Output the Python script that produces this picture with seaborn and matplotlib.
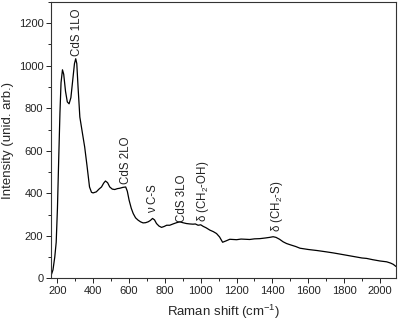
import matplotlib
matplotlib.use("Agg")
import matplotlib.pyplot as plt
from matplotlib.ticker import MultipleLocator
import seaborn as sns
import pandas as pd

raman_shift = [165, 175, 185, 193, 200, 207, 214, 220, 228, 235, 245, 255, 265,
               275, 285, 295, 302, 308, 315, 325, 340, 352, 365, 379, 390, 399,
               417, 432, 446, 458, 468, 480, 492, 506, 520, 534, 548, 565, 581,
               590, 600, 612, 623, 636, 650, 664, 678, 692, 706, 718, 731, 742,
               753, 767, 781, 795, 810, 827, 845, 865, 883, 900, 920, 940, 957,
               970, 985, 1000, 1013, 1030, 1051, 1070, 1088, 1105, 1122, 1140,
               1162, 1181, 1200, 1225, 1250, 1273, 1300, 1330, 1360, 1385, 1404,
               1420, 1440, 1460, 1479, 1500, 1530, 1554, 1600, 1650, 1700, 1739,
               1780, 1820, 1860, 1900, 1926, 1960, 2000, 2038, 2060, 2075, 2090]
intensity = [15, 40, 100, 170, 330, 560, 780, 920, 981, 960, 880, 830, 821,
             850, 930, 1010, 1033, 1010, 900, 759, 680, 618, 530, 430, 405, 402,
             407, 420, 430, 448, 458, 450, 430, 420, 418, 422, 424, 428, 430,
             410, 368, 330, 305, 285, 274, 266, 261, 262, 266, 272, 282, 275,
             258, 246, 240, 244, 250, 250, 256, 262, 266, 262, 258, 256, 255,
             256, 250, 252, 245, 238, 227, 220, 211, 195, 170, 176,
             184, 183, 182, 185, 184, 183, 186, 187, 190, 193, 196,
             193, 184, 172, 164, 158, 150, 142, 136, 131, 125, 120,
             114, 108, 102, 96, 94, 88, 82, 78, 72, 66, 56]

labels = ["CdS 1LO", "CdS 2LO", "ν C-S", "CdS 3LO",
          r"δ (CH$_2$-OH)", r"δ (CH$_2$-S)"]
label_x = [308, 582, 732, 893, 1012, 1425]
label_y = [1048, 443, 307, 264, 264, 217]

x_ticks = [200, 400, 600, 800, 1000, 1200, 1400, 1600, 1800, 2000]
y_ticks = [0, 200, 400, 600, 800, 1000, 1200]

sns.set_style("ticks")
plt.rcParams["font.family"] = ["Liberation Sans", "DejaVu Sans"]
plt.rcParams["mathtext.fontset"] = "custom"
plt.rcParams["mathtext.rm"] = "Liberation Sans"
plt.rcParams["mathtext.it"] = "Liberation Sans:italic"

df = pd.DataFrame({"shift": raman_shift, "intensity": intensity})

fig = plt.figure(figsize=(4.0, 3.26), dpi=100)
ax = fig.add_axes([0.1275, 0.146, 0.8625, 0.848])
sns.lineplot(data=df, x="shift", y="intensity", ax=ax, color="black",
             linewidth=0.9, sort=False, estimator=None)

for t, x, y in zip(labels, label_x, label_y):
    ax.text(x, y, t, rotation=90, ha="center", va="bottom", fontsize=8.3,
            color="#222222")

ax.set_xlim(164, 2090)
ax.set_ylim(0, 1300)
ax.set_xticks(x_ticks)
ax.set_yticks(y_ticks)
ax.xaxis.set_minor_locator(MultipleLocator(100))
ax.yaxis.set_minor_locator(MultipleLocator(100))
ax.tick_params(which="major", direction="out", length=3.5, width=0.7,
               labelsize=8, colors="#222222", pad=2)
ax.tick_params(which="minor", direction="out", length=2, width=0.7)
ax.tick_params(top=False, right=False, which="both")
for s in ax.spines.values():
    s.set_visible(True)
    s.set_linewidth(0.8)
    s.set_color("#333333")

ax.set_xlabel(r"Raman shift (cm$^{-1}$)", fontsize=9.5, labelpad=5)
ax.set_ylabel("Intensity (unid. arb.)", fontsize=9.5, labelpad=3)

fig.savefig("out.png", dpi=100)
